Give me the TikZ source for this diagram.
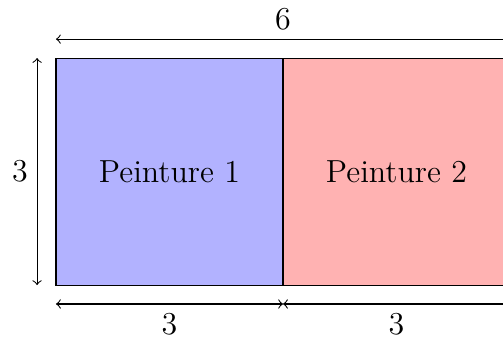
\documentclass[tikz,border=0pt]{standalone}
\usetikzlibrary{positioning}

\begin{document}
\begin{tikzpicture}[x=1cm,y=1cm]
\tikzset{
  paintbox/.style={rectangle,draw,minimum size=3cm,inner sep=0pt,font=\large},
  dimline/.style={<->},
  dimlabel/.style={font=\large}
}
\clip (-0.74,-0.727) rectangle (5.907,3.767);
\node[paintbox,fill=blue!30] (p_1) at (1.5,1.5) {Peinture 1};
\node[paintbox,fill=red!30] (p_2) at (4.5,1.5) {Peinture 2};
\coordinate (top_l) at (0,3.25);
\coordinate (top_r) at (6,3.25);
\coordinate (bot_l) at (0,-0.25);
\coordinate (bot_m) at (3,-0.25);
\coordinate (bot_r) at (6,-0.25);
\coordinate (side_b) at (-0.25,0);
\coordinate (side_t) at (-0.25,3);
\draw[dimline] (top_l) -- node[dimlabel,above] {6} (top_r);
\draw[dimline] (bot_l) -- node[dimlabel,below] {3} (bot_m);
\draw[dimline] (bot_m) -- node[dimlabel,below] {3} (bot_r);
\draw[dimline] (side_b) -- node[dimlabel,left] {3} (side_t);
\end{tikzpicture}
\end{document}
